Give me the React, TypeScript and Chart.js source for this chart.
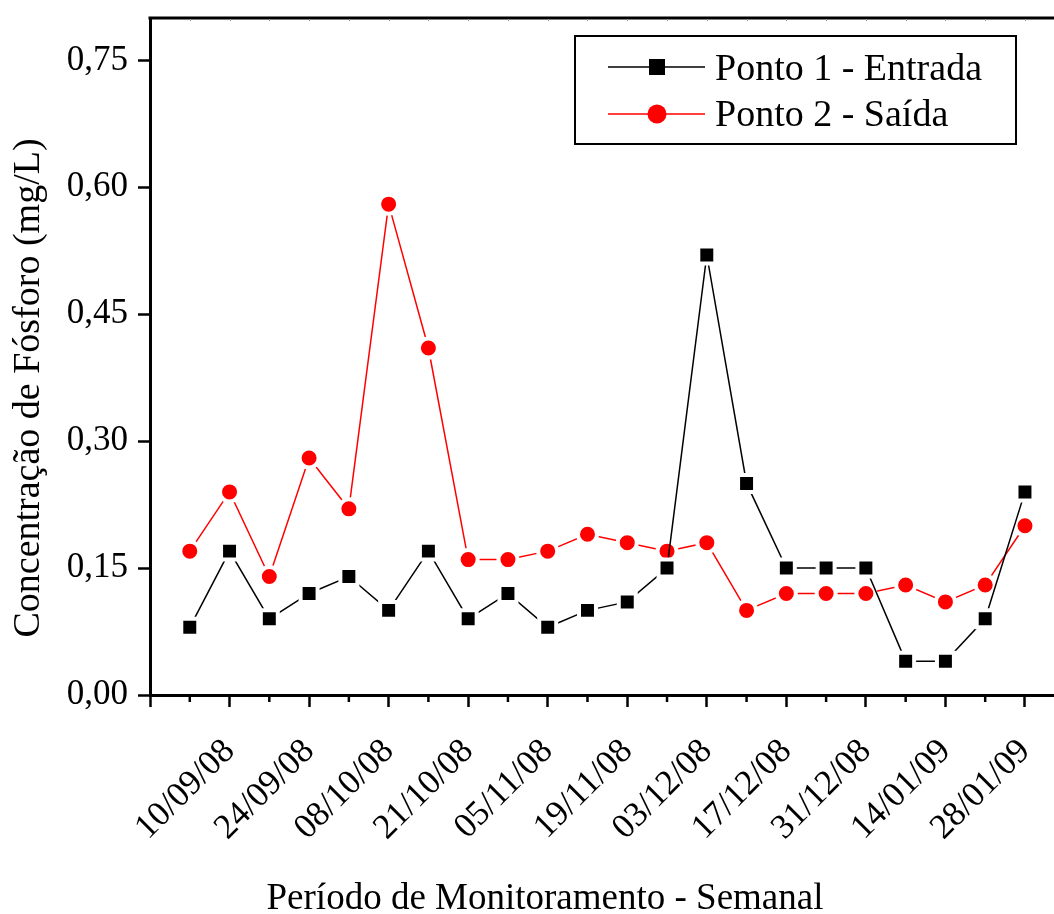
import React, { useEffect, useRef } from 'react';
import { Chart, registerables } from 'chart.js';

Chart.register(...registerables);

// ---- data ----
const WEEKS = [1, 2, 3, 4, 5, 6, 7, 8, 9, 10, 11, 12, 13, 14, 15, 16, 17, 18, 19, 20, 21, 22];
const PONTO1 = [0.08, 0.17, 0.09, 0.12, 0.14, 0.10, 0.17, 0.09, 0.12, 0.08, 0.10, 0.11, 0.15, 0.52, 0.25, 0.15, 0.15, 0.15, 0.04, 0.04, 0.09, 0.24];
const PONTO2 = [0.17, 0.24, 0.14, 0.28, 0.22, 0.58, 0.41, 0.16, 0.16, 0.17, 0.19, 0.18, 0.17, 0.18, 0.10, 0.12, 0.12, 0.12, 0.13, 0.11, 0.13, 0.20];
const DATE_LABELS = ['10/09/08', '24/09/08', '08/10/08', '21/10/08', '05/11/08', '19/11/08', '03/12/08', '17/12/08', '31/12/08', '14/01/09', '28/01/09'];
const X_MAJOR = [0, 2, 4, 6, 8, 10, 12, 14, 16, 18, 20, 22];
const Y_TICKS = [0, 0.15, 0.30, 0.45, 0.60, 0.75];
const SERIES_NAMES = ['Ponto 1 - Entrada', 'Ponto 2 - Saída'];
const SERIES_COLORS = ['#000000', '#ff0000'];
const X_TITLE = 'Período de Monitoramento - Semanal';
const Y_TITLE = 'Concentração de Fósforo (mg/L)';

const FAMILY = '"Liberation Serif", "Times New Roman", serif';

const framePlugin = {
  id: 'frameAndLegend',
  afterDraw(chart: any) {
    const { ctx, chartArea: a, scales } = chart;
    const xs = scales.x;
    ctx.save();
    // top frame line
    ctx.strokeStyle = '#000';
    ctx.lineWidth = 3;
    ctx.beginPath();
    ctx.moveTo(a.left - 1.5, a.top);
    ctx.lineTo(a.right + 2, a.top);
    ctx.stroke();
    // faint tiny ticks under the top line
    ctx.strokeStyle = '#999';
    ctx.lineWidth = 1;
    for (const w of WEEKS) {
      const px = Math.round(xs.getPixelForValue(w)) + 0.5;
      ctx.beginPath();
      ctx.moveTo(px, a.top + 1);
      ctx.lineTo(px, a.top + 3);
      ctx.stroke();
    }
    // minor ticks on bottom axis
    ctx.strokeStyle = '#000';
    ctx.lineWidth = 2.5;
    for (const w of WEEKS) {
      if (w % 2 === 0) continue;
      const px = xs.getPixelForValue(w);
      ctx.beginPath();
      ctx.moveTo(px, a.bottom);
      ctx.lineTo(px, a.bottom + 7);
      ctx.stroke();
    }
    // axis titles
    ctx.fillStyle = '#000';
    ctx.textBaseline = 'alphabetic';
    ctx.textAlign = 'center';
    ctx.font = `37px ${FAMILY}`;
    ctx.fillText(X_TITLE, 545, 909);
    ctx.save();
    ctx.translate(39, 388);
    ctx.rotate(-Math.PI / 2);
    ctx.font = `38px ${FAMILY}`;
    ctx.fillText(Y_TITLE, 0, 0);
    ctx.restore();

    // legend
    ctx.lineWidth = 2;
    ctx.strokeStyle = '#000';
    ctx.strokeRect(575, 36, 441, 108);
    const rows = [67, 114];
    const bases = [80, 126];
    chart.data.datasets.forEach((ds: any, i: number) => {
      const y = rows[i];
      ctx.strokeStyle = ds.borderColor;
      ctx.lineWidth = 1.5;
      ctx.beginPath();
      ctx.moveTo(608, y);
      ctx.lineTo(705, y);
      ctx.stroke();
      ctx.fillStyle = ds.pointBackgroundColor;
      if (ds.pointStyle === 'rect') {
        ctx.fillRect(657 - 8, y - 8, 16, 16);
      } else {
        ctx.beginPath();
        ctx.arc(657, y, 9.5, 0, Math.PI * 2);
        ctx.fill();
      }
      ctx.fillStyle = '#000';
      ctx.textAlign = 'left';
      ctx.font = `38px ${FAMILY}`;
      ctx.fillText(ds.label, 715, bases[i]);
    });
    ctx.restore();
  },
};

export default function App() {
  const ref = useRef<HTMLCanvasElement>(null);

  useEffect(() => {
    const canvas = ref.current;
    if (!canvas) return;
    const tickFont = { family: FAMILY, size: 35 };
    const chart = new Chart(canvas, {
      type: 'line',
      data: {
        datasets: [
          {
            label: SERIES_NAMES[0],
            data: WEEKS.map((w, i) => ({ x: w, y: PONTO1[i] })),
            borderColor: SERIES_COLORS[0],
            borderWidth: 1.5,
            pointStyle: 'rect',
            pointRadius: 12,
            pointBackgroundColor: SERIES_COLORS[0],
            pointBorderColor: '#ffffff',
            pointBorderWidth: 4,
            tension: 0,
          },
          {
            label: SERIES_NAMES[1],
            data: WEEKS.map((w, i) => ({ x: w, y: PONTO2[i] })),
            borderColor: SERIES_COLORS[1],
            borderWidth: 1.5,
            pointStyle: 'circle',
            pointRadius: 9.5,
            pointBackgroundColor: SERIES_COLORS[1],
            pointBorderColor: '#ffffff',
            pointBorderWidth: 4,
            tension: 0,
          },
        ],
      },
      options: {
        responsive: false,
        animation: false,
        events: [],
        layout: { autoPadding: false, padding: { top: 18, left: 0, right: 0, bottom: 0 } },
        plugins: { legend: { display: false }, tooltip: { enabled: false } },
        scales: {
          x: {
            type: 'linear',
            min: 0,
            max: 22.73,
            grid: { drawOnChartArea: false, drawTicks: true, tickLength: 12, tickWidth: 2.5, tickColor: '#000' },
            border: { display: true, color: '#000', width: 3 },
            afterBuildTicks: (s: any) => {
              s.ticks = X_MAJOR.map((v) => ({ value: v }));
            },
            afterFit: (s: any) => {
              s.height = 219;
              s.paddingLeft = 0;
              s.paddingRight = 0;
            },
            ticks: {
              autoSkip: false,
              minRotation: 45,
              maxRotation: 45,
              padding: 24,
              color: '#000',
              font: tickFont,
              callback: (_v: any, idx: number) => (idx === 0 ? '' : DATE_LABELS[idx - 1]),
            },
          },
          y: {
            type: 'linear',
            min: 0,
            max: 0.8,
            grid: { drawOnChartArea: false, drawTicks: true, tickLength: 12, tickWidth: 2.5, tickColor: '#000' },
            border: { display: true, color: '#000', width: 3 },
            afterBuildTicks: (s: any) => {
              s.ticks = Y_TICKS.map((v) => ({ value: v }));
            },
            afterFit: (s: any) => {
              s.width = 150;
              s.paddingTop = 0;
              s.paddingBottom = 0;
            },
            ticks: {
              padding: 10,
              color: '#000',
              font: tickFont,
              callback: (v: any) => Number(v).toFixed(2).replace('.', ','),
            },
          },
        },
      },
      plugins: [framePlugin],
    } as any);
    return () => chart.destroy();
  }, []);

  return (
    <div style={{ position: 'absolute', left: 0, top: 0, width: 1054, height: 914, background: '#fff', overflow: 'hidden' }}>
      <canvas ref={ref} width={1054} height={914} style={{ display: 'block', width: 1054, height: 914 }} />
    </div>
  );
}
